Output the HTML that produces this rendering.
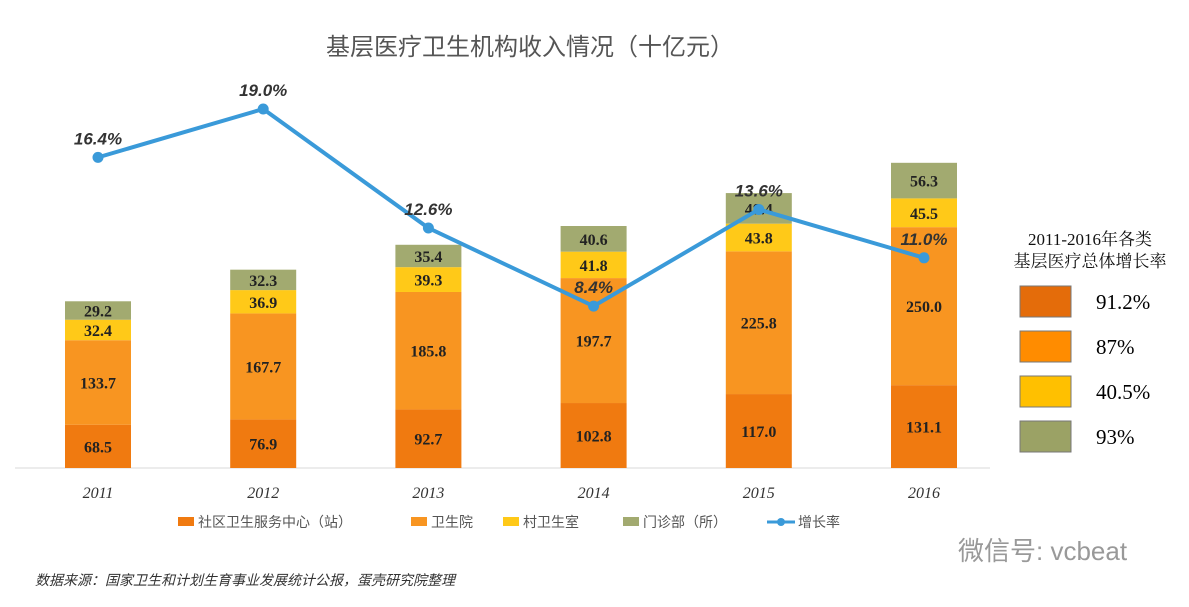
<!DOCTYPE html>
<html><head><meta charset="utf-8"><style>
body{margin:0;background:#fff;}
svg{display:block;font-family:"Liberation Sans","Noto Sans CJK SC",sans-serif;}
</style></head><body>
<svg id="c" width="1189" height="607">
<text x="530" y="55" font-size="24" fill="#555" text-anchor="middle">基层医疗卫生机构收入情况（十亿元）</text>
<line x1="15" y1="468" x2="990" y2="468" stroke="#d9d9d9"/>
<g id="bars"></g><g id="line"></g>
<g font-family="'Liberation Serif','Noto Serif CJK SC',serif">
<text x="1090" y="245" font-size="17" text-anchor="middle" fill="#111">2011-2016年各类</text>
<text x="1090" y="267" font-size="17" text-anchor="middle" fill="#111">基层医疗总体增长率</text>
<rect x="1020" y="286" width="51" height="31" fill="#E46C0A" stroke="#777"/><text x="1096" y="309" font-size="21">91.2%</text>
<rect x="1020" y="331" width="51" height="31" fill="#FF8C00" stroke="#777"/><text x="1096" y="354" font-size="21">87%</text>
<rect x="1020" y="376" width="51" height="31" fill="#FFC000" stroke="#777"/><text x="1096" y="399" font-size="21">40.5%</text>
<rect x="1020" y="421" width="51" height="31" fill="#9BA265" stroke="#777"/><text x="1096" y="444" font-size="21">93%</text>
</g>
<g font-size="14" fill="#555">
<rect x="178" y="517" width="16" height="9" fill="#F07A10"/><text x="198" y="527">社区卫生服务中心（站）</text>
<rect x="411" y="517" width="16" height="9" fill="#F89521"/><text x="431" y="527">卫生院</text>
<rect x="503" y="517" width="16" height="9" fill="#FFC918"/><text x="523" y="527">村卫生室</text>
<rect x="623" y="517" width="16" height="9" fill="#A2AA70"/><text x="643" y="527">门诊部（所）</text>
<line x1="767" y1="522" x2="795" y2="522" stroke="#3A9AD9" stroke-width="3"/><circle cx="781" cy="522" r="4" fill="#3A9AD9"/><text x="798" y="527">增长率</text>
</g>
<text x="35" y="585" font-size="14" font-style="italic" fill="#333">数据来源：国家卫生和计划生育事业发展统计公报，蛋壳研究院整理</text>
<text x="958" y="560" font-size="26" fill="#999">微信号: vcbeat</text>
</svg>
<script>
const years=["2011","2012","2013","2014","2015","2016"];
const community=[68.5,76.9,92.7,102.8,117.0,131.1];
const township=[133.7,167.7,185.8,197.7,225.8,250.0];
const village=[32.4,36.9,39.3,41.8,43.8,45.5];
const clinic=[29.2,32.3,35.4,40.6,48.4,56.3];
const growth=[16.4,19.0,12.6,8.4,13.6,11.0];
const ns="http://www.w3.org/2000/svg";
const base=468,k=0.632,bw=66;
const xc=i=>98+i*165.2;
const yv=v=>base-v*k;
const yg=g=>109+(19-g)*18.6;
const series=[[community,"#F07A10"],[township,"#F89521"],[village,"#FFC918"],[clinic,"#A2AA70"]];
const bars=document.getElementById('bars');
function mk(t,a,p){const e=document.createElementNS(ns,t);for(const q in a)e.setAttribute(q,a[q]);p.appendChild(e);return e;}
years.forEach((y,i)=>{
 let cum=0;
 series.forEach(([arr,col],s)=>{
  const v=arr[i];
  const r=mk('rect',{x:xc(i)-bw/2,y:yv(cum+v),width:bw,height:v*k,fill:col},bars);
  
  
  const t=mk('text',{x:xc(i),y:yv(cum+v/2)+6,'text-anchor':'middle','font-size':16,'font-weight':'bold','font-family':"'Liberation Serif',serif",fill:'#222'},bars);
  t.textContent=v.toFixed(1);
  
  
  cum+=v;
 });
 const yt=mk('text',{x:xc(i),y:498,'text-anchor':'middle','font-size':16,'font-style':'italic','font-family':"'Liberation Serif',serif",fill:'#333'},bars);
 yt.textContent=y;
 
 
});
const lg=document.getElementById('line');
const pts=growth.map((g,i)=>xc(i)+','+yg(g)).join(' ');
const pl=mk('polyline',{points:pts,fill:'none',stroke:'#3A9AD9','stroke-width':4},lg);


growth.forEach((g,i)=>{
 const c=mk('circle',{cx:xc(i),cy:yg(g),r:5.5,fill:'#3A9AD9'},lg);
 
 
 const t=mk('text',{x:xc(i),y:yg(g)-13,'text-anchor':'middle','font-size':17,'font-weight':'bold','font-style':'italic',fill:'#333'},lg);
 t.textContent=g.toFixed(1)+'%';
 
 
});
</script>
</body></html>
